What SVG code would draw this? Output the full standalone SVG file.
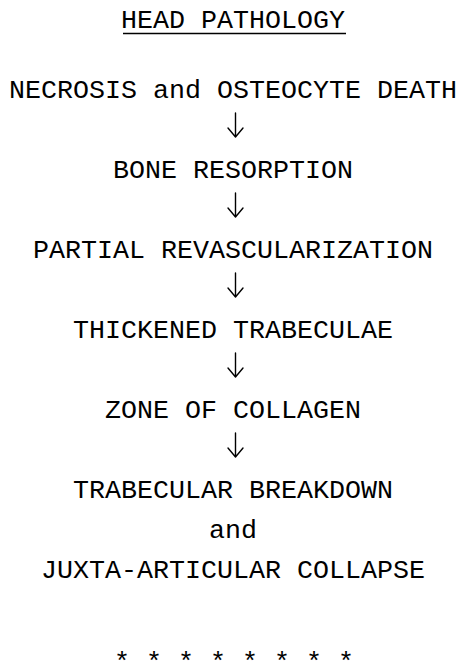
<svg xmlns="http://www.w3.org/2000/svg" width="463" height="668" viewBox="0 0 463 668">
<style>
text{font-family:"Liberation Mono","Courier New",monospace;font-size:26.67px;fill:#000;text-anchor:middle}
.ul{stroke:#000;stroke-width:1.3}
.arr{fill:none;stroke:#000;stroke-width:1.4;stroke-linecap:round;stroke-linejoin:round}
</style>
<defs>
<g id="a"><path class="arr" d="M0,-12 V12 M-7.5,3 L0,12 L7.5,3"/></g>
</defs>
<rect width="463" height="668" fill="#fff"/>
<g id="title"><text x="233" y="28">HEAD PATHOLOGY</text><line class="ul" x1="123" y1="33.5" x2="346" y2="33.5"/></g>
<g id="n1"><text x="233" y="98">NECROSIS and OSTEOCYTE DEATH</text></g>
<g id="n2"><text x="233" y="178">BONE RESORPTION</text></g>
<g id="n3"><text x="233" y="258">PARTIAL REVASCULARIZATION</text></g>
<g id="n4"><text x="233" y="338">THICKENED TRABECULAE</text></g>
<g id="n5"><text x="233" y="418">ZONE OF COLLAGEN</text></g>
<g id="n6"><text x="233" y="498">TRABECULAR BREAKDOWN</text><text x="233" y="538">and</text><text x="233" y="578">JUXTA-ARTICULAR COLLAPSE</text></g>
<g id="connectors">
<use href="#a" x="235.5" y="125"/>
<use href="#a" x="235.5" y="205"/>
<use href="#a" x="235.5" y="285"/>
<use href="#a" x="235.5" y="365"/>
<use href="#a" x="235.5" y="445"/>
</g>
<g id="stars"><text x="234" y="670">* * * * * * * *</text></g>
</svg>
